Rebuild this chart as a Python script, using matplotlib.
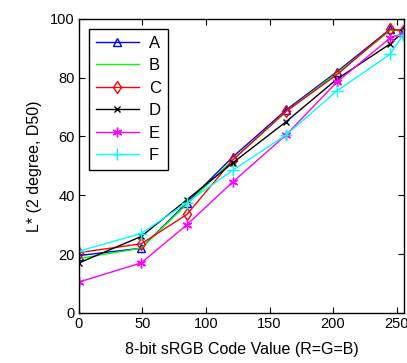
import matplotlib
matplotlib.use("Agg")
import matplotlib.pyplot as plt

plt.rcParams['font.family'] = ['Liberation Sans', 'DejaVu Sans']

code = [0, 49, 85, 121, 163, 203, 245, 255]
A = [19.5, 22.0, 37.5, 53.0, 69.0, 82.0, 96.5, 96.0]
B = [18.5, 22.0, 37.0, 52.0, 68.5, 81.5, 96.0, 96.0]
C = [20.5, 23.5, 33.5, 52.0, 68.5, 81.0, 96.5, 96.0]
D = [17.0, 26.0, 38.5, 51.0, 65.0, 79.5, 91.5, 95.5]
E = [10.5, 17.0, 30.0, 44.5, 60.5, 78.5, 93.5, 95.0]
F = [21.0, 27.0, 37.5, 48.5, 60.5, 75.5, 88.0, 94.5]

fig = plt.figure(figsize=(4.07, 3.63), dpi=100)
ax = fig.add_axes([0.194, 0.138, 0.799, 0.810])

ax.plot(code, A, color='blue', marker='^', mfc='none', ms=6, lw=1, label='A')
ax.plot(code, B, color='#00ff00', lw=1, label='B')
ax.plot(code, C, color='red', marker='d', mfc='none', ms=6, lw=1, label='C')
ax.plot(code, D, color='black', marker='x', ms=5, lw=1, label='D')
ax.plot(code, E, color='magenta', marker=(6, 2, 0), ms=7, lw=1, label='E')
ax.plot(code, F, color='cyan', marker='+', ms=8, lw=1, label='F')

ax.set_xlim(0, 256)
ax.set_ylim(0, 100)
ax.set_xticks([0, 50, 100, 150, 200, 250])
ax.set_yticks([0, 20, 40, 60, 80, 100])
ax.tick_params(direction='in', top=True, right=True, length=4, labelsize=10.5, pad=3)
for s in ax.spines.values():
    s.set_linewidth(1)

ax.set_xlabel('8-bit sRGB Code Value (R=G=B)', fontsize=11.5, labelpad=8)
ax.set_ylabel('L* (2 degree, D50)', fontsize=11.5, labelpad=6)

leg = ax.legend(loc='upper left', fontsize=12, fancybox=False, framealpha=1,
                edgecolor='black', handlelength=2.6, borderaxespad=0.6,
                labelspacing=0.45, handletextpad=0.6)
leg.get_frame().set_linewidth(1)

fig.savefig('out.png', dpi=100)
